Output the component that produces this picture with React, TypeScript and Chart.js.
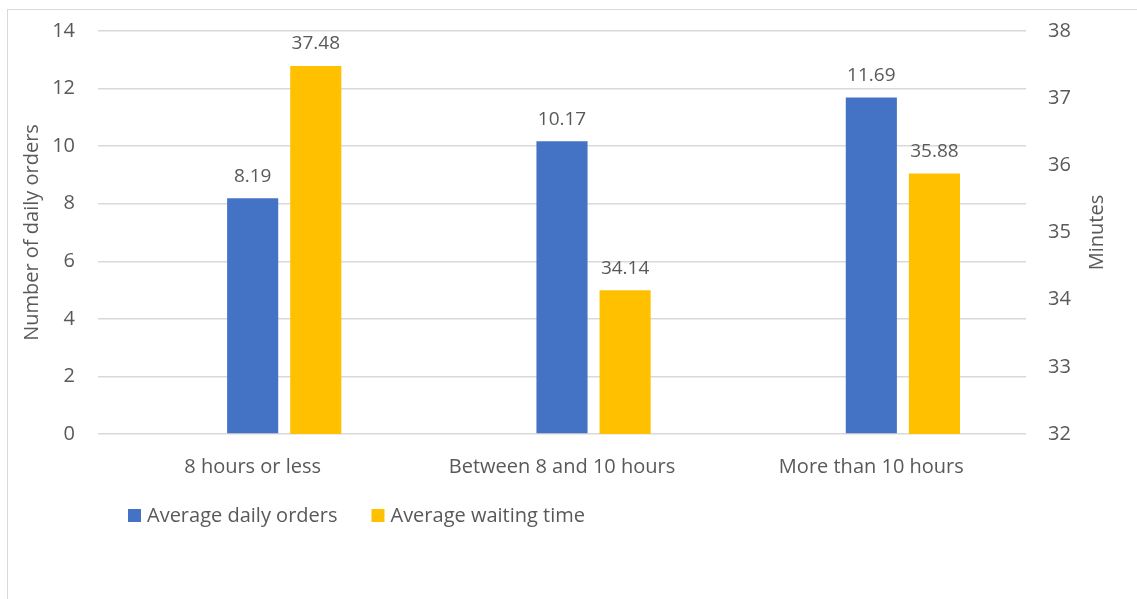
import React, { useEffect, useRef } from "react";
import { Chart, registerables } from "chart.js";

Chart.register(...registerables);

const categories = ["8 hours or less", "Between 8 and 10 hours", "More than 10 hours"];
const avgDailyOrders = [8.19, 10.17, 11.69];
const avgWaitingTime = [37.48, 34.14, 35.88];
const spacer = [null, null, null];
const leftTitle = "Number of daily orders";
const rightTitle = "Minutes";
const seriesNames = ["Average daily orders", "Average waiting time"];

const BLUE = "#4472C4";
const YELLOW = "#FFC000";
const TEXT = "#595959";
const GRID = "#D9D9D9";
const FONT = "'Open Sans', sans-serif";
const FS = 20;
const CLEAR = "rgba(0,0,0,0)";

export default function App() {
  const ref = useRef<HTMLCanvasElement | null>(null);

  useEffect(() => {
    if (!ref.current) return;
    const extras = {
      id: "extras",
      afterDatasetsDraw(chart: any) {
        const ctx = chart.ctx;
        ctx.save();
        ctx.fillStyle = TEXT;
        ctx.font = `${FS - 1}px ${FONT}`;
        ctx.textAlign = "center";
        ctx.textBaseline = "middle";
        [1, 2].forEach((di) => {
          const meta = chart.getDatasetMeta(di);
          const ds = chart.data.datasets[di];
          meta.data.forEach((el: any, i: number) => {
            const v = ds.data[i] as number;
            ctx.fillText(v.toFixed(2), el.x, el.y - 22);
          });
        });
        // right axis title, reading bottom to top
        ctx.font = `${FS}px ${FONT}`;
        const ca = chart.chartArea;
        ctx.translate(1097, (ca.top + ca.bottom) / 2);
        ctx.rotate(-Math.PI / 2);
        ctx.fillText(rightTitle, 0, 0);
        ctx.restore();

        // legend
        ctx.save();
        ctx.font = `${FS}px ${FONT}`;
        ctx.textBaseline = "middle";
        ctx.textAlign = "left";
        let x = 128;
        const y = 516;
        const colors = [BLUE, YELLOW];
        seriesNames.forEach((name, k) => {
          ctx.fillStyle = colors[k];
          ctx.fillRect(x, y - 7, 13, 13);
          ctx.fillStyle = TEXT;
          ctx.fillText(name, x + 19, y);
          x += 19 + ctx.measureText(name).width + 34;
        });
        ctx.restore();
      },
    };

    const chart = new Chart(ref.current, {
      type: "bar",
      data: {
        labels: categories,
        datasets: [
          { label: "", data: spacer as any, yAxisID: "y", backgroundColor: CLEAR },
          { label: seriesNames[0], data: avgDailyOrders, yAxisID: "y", backgroundColor: BLUE },
          { label: seriesNames[1], data: avgWaitingTime, yAxisID: "y1", backgroundColor: YELLOW },
        ],
      },
      options: {
        responsive: false,
        animation: false,
        devicePixelRatio: 1,
        layout: { padding: { top: 31, left: 0, right: 0, bottom: 0 } },
        datasets: { bar: { categoryPercentage: 0.612, barPercentage: 0.81 } },
        plugins: {
          legend: { display: false },
          tooltip: { enabled: false },
        },
        scales: {
          x: {
            grid: { display: false, drawTicks: false },
            border: { display: false },
            ticks: { color: TEXT, font: { family: FONT, size: FS }, padding: 21, maxRotation: 0 },
            afterFit(scale: any) {
              scale.height = 165;
            },
          },
          y: {
            position: "left",
            min: 0,
            max: 14,
            ticks: { stepSize: 2, color: TEXT, font: { family: FONT, size: FS }, padding: 0 },
            grid: { color: GRID, lineWidth: 1.5, drawTicks: true, tickLength: 23, tickColor: CLEAR },
            border: { display: false },
            title: {
              display: true,
              text: leftTitle,
              color: TEXT,
              font: { family: FONT, size: FS },
              padding: { top: 20, bottom: 0 },
            },
            afterFit(scale: any) {
              scale.width = 98;
            },
          },
          y1: {
            position: "right",
            min: 32,
            max: 38,
            ticks: { stepSize: 1, color: TEXT, font: { family: FONT, size: FS }, padding: 0 },
            grid: { display: true, drawOnChartArea: false, drawTicks: true, tickLength: 22, tickColor: CLEAR },
            border: { display: false },
            afterFit(scale: any) {
              scale.width = 111;
            },
          },
        },
      },
      plugins: [extras],
    } as any);
    return () => chart.destroy();
  }, []);

  return (
    <div style={{ position: "fixed", left: 0, top: 0, width: 1137, height: 599, overflow: "hidden", background: "#fff" }}>
      <div
        style={{
          position: "absolute",
          left: 7,
          top: 9,
          width: 1200,
          height: 700,
          border: "1px solid #D9D9D9",
          boxSizing: "border-box",
        }}
      />
      <canvas ref={ref} width={1137} height={599} style={{ position: "absolute", left: 0, top: 0 }} />
    </div>
  );
}
